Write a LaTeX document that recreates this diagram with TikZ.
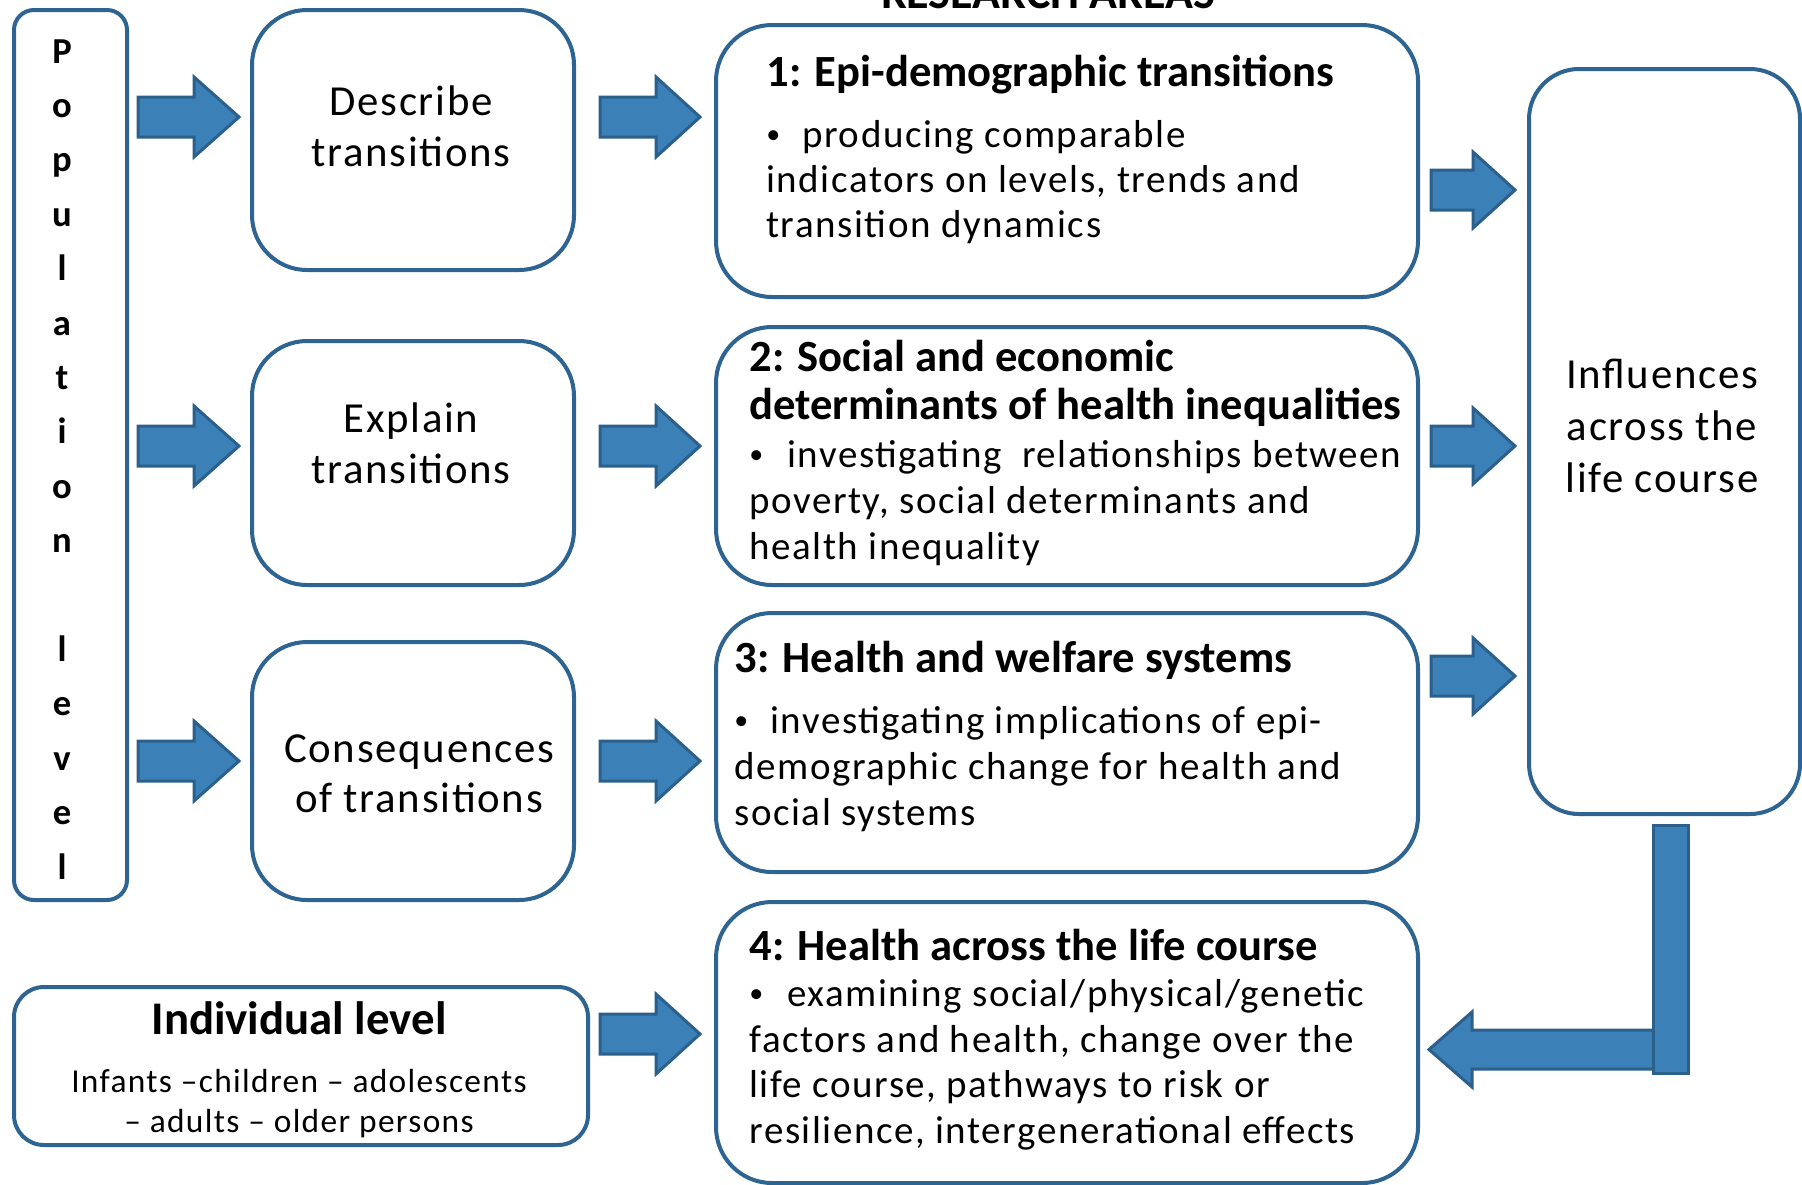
\documentclass[tikz,border=0pt]{standalone}
\usepackage{fontspec}
\setmainfont{Carlito}
\newfontfamily\spc[LetterSpace=4]{Carlito}
\definecolor{boxc}{HTML}{2E6492}
\definecolor{arrf}{HTML}{3B80B6}
\definecolor{arrd}{HTML}{2B5F8C}
\newcommand\rarrow[6]{% x0, yc, x1, shaft half, head half, head length
  \draw[arr] ({#1},{#2-#4}) -- ({#3-#6},{#2-#4}) -- ({#3-#6},{#2-#5}) -- ({#3},{#2})
    -- ({#3-#6},{#2+#5}) -- ({#3-#6},{#2+#4}) -- ({#1},{#2+#4}) -- cycle;}
\newcommand\mybul{{\fontsize{14}{14}\selectfont\raisebox{1.8pt}{•}}}
\begin{document}
\begin{tikzpicture}[x=0.5pt,y=-0.5pt,
  box/.style={draw=boxc,line width=2pt,fill=white,anchor=north west,inner sep=0},
  arr/.style={fill=arrf,draw=arrd,line width=1.5pt,line join=miter},
  txt/.style={inner sep=0,anchor=base west},
  ctxt/.style={inner sep=0,anchor=base},
  head/.style={font=\bfseries\fontsize{22.3}{24}\selectfont},
  body/.style={font=\spc\fontsize{19.5}{23}\selectfont},
  big/.style={font=\spc\fontsize{21.4}{26}\selectfont}]
\useasboundingbox (0,0) rectangle (1802,1184);
\clip (0,0) rectangle (1802,1184);

% title (cut off at top)
\node[ctxt,font=\bfseries\fontsize{23}{27}\selectfont] (ra) at (1048,8) {RESEARCH AREAS};

% boxes
\node[box,rounded corners=10pt,minimum width=56.5pt,minimum height=445pt] (pop) at (12,8) {};
\node[box,rounded corners=27.5pt,minimum width=161pt,minimum height=130pt] (desc) at (250,8) {};
\node[box,rounded corners=27.5pt,minimum width=161pt,minimum height=122pt] (expl) at (250,339) {};
\node[box,rounded corners=27.5pt,minimum width=161pt,minimum height=129pt] (cons) at (250,640) {};
\node[box,rounded corners=28pt,minimum width=351pt,minimum height=136pt] (b1) at (714,23) {};
\node[box,rounded corners=28pt,minimum width=351pt,minimum height=129pt] (b2) at (714,325) {};
\node[box,rounded corners=28pt,minimum width=351pt,minimum height=129.5pt] (b3) at (714,611) {};
\node[box,rounded corners=28pt,minimum width=351pt,minimum height=140.5pt] (b4) at (714,900) {};
\node[box,rounded corners=25pt,minimum width=135.5pt,minimum height=372.5pt] (infl) at (1527,67) {};
\node[box,rounded corners=15pt,minimum width=287pt,minimum height=79pt] (indiv) at (12,985) {};

% population level letters
\foreach \l/\i in {P/0,o/1,p/2,u/3,l/4,a/5,t/6,i/7,o/8,n/9,l/11,e/12,v/13,e/14,l/15}
  \node[ctxt,font=\bfseries\fontsize{18.3}{22}\selectfont] (popl\i) at (62,{63+54.4*\i}) {\l};

% left column texts
\node[ctxt,big] (desc1) at (411,115) {Describe};
\node[ctxt,big] (desc2) at (411,166) {transitions};
\node[ctxt,big] (expl1) at (411,432) {Explain};
\node[ctxt,big] (expl2) at (411,483) {transitions};
\node[ctxt,big] (cons1) at (419,762) {Consequences};
\node[ctxt,big] (cons2) at (419,812) {of transitions};

% box 1
\node[txt,head] (b1h) at (766,86) {1: Epi-demographic transitions};
\node[txt,body] (b1a) at (766,147) {\mybul\hspace{11pt}producing comparable};
\node[txt,body] (b1b) at (766,192) {indicators on levels, trends and};
\node[txt,body] (b1c) at (766,237) {transition dynamics};

% box 2
\node[txt,head] (b2h1) at (749,371) {2: Social and economic};
\node[txt,head] (b2h2) at (749,419) {determinants of health inequalities};
\node[txt,body] (b2a) at (749,467) {\mybul\hspace{12pt}investigating\ \ relationships between};
\node[txt,body] (b2b) at (749,513) {poverty, social determinants and};
\node[txt,body] (b2c) at (749,559) {health inequality};

% box 3
\node[txt,head] (b3h) at (734,672) {3: Health and welfare systems};
\node[txt,body] (b3a) at (734,733) {\mybul\hspace{11pt}investigating implications of epi-};
\node[txt,body] (b3b) at (734,779) {demographic change for health and};
\node[txt,body] (b3c) at (734,825) {social systems};

% box 4
\node[txt,head] (b4h) at (749,960) {4: Health across the life course};
\node[txt,body] (b4a) at (749,1006) {\mybul\hspace{12pt}examining social/physical/genetic};
\node[txt,body] (b4b) at (749,1052) {factors and health, change over the};
\node[txt,body] (b4c) at (749,1097) {life course, pathways to risk or};
\node[txt,body] (b4d) at (749,1143) {resilience, intergenerational effects};

% influences
\node[ctxt,big] (infl1) at (1662,388) {Influences};
\node[ctxt,big] (infl2) at (1662,440) {across the};
\node[ctxt,big] (infl3) at (1662,492) {life course};

% individual level
\node[ctxt,font=\bfseries\fontsize{23.4}{27}\selectfont] (ind1) at (299,1034) {Individual level};
\node[ctxt,font=\spc\fontsize{16.7}{20}\selectfont] (ind2) at (299,1092) {Infants –children – adolescents};
\node[ctxt,font=\spc\fontsize{16.7}{20}\selectfont] (ind3) at (299,1132) {– adults – older persons};

% block arrows
\rarrow{138}{117}{239}{20}{40}{45}
\rarrow{138}{446}{239}{20}{40}{45}
\rarrow{138}{761}{239}{20}{40}{45}
\rarrow{600}{117}{700}{20}{40}{44}
\rarrow{600}{446}{700}{20}{40}{44}
\rarrow{600}{761}{700}{20}{40}{44}
\rarrow{600}{1034}{700}{20}{40}{44}
\rarrow{1431}{190}{1515}{20}{38}{42}
\rarrow{1431}{446}{1515}{20}{38}{42}
\rarrow{1431}{676}{1515}{20}{38}{42}

% bent arrow
\draw[arr] (1660,1030) -- (1472,1030) -- (1472,1012) -- (1429,1049.5) -- (1472,1087) -- (1472,1069) -- (1660,1069) -- cycle;
\draw[arr] (1653,825) rectangle (1688,1073);
\end{tikzpicture}
\end{document}
